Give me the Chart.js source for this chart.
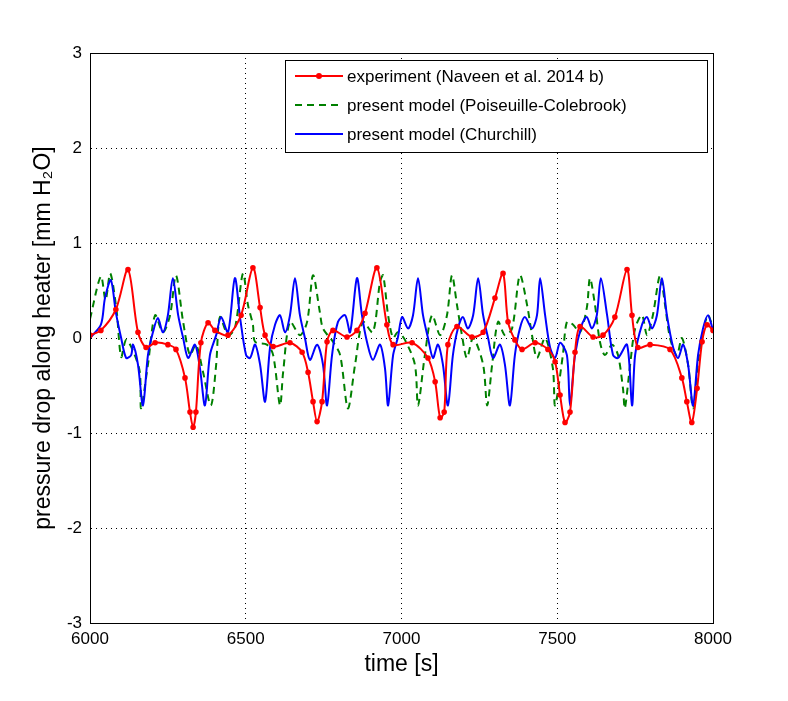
<!DOCTYPE html>
<html><head><meta charset="utf-8">
<script src="https://cdn.jsdelivr.net/npm/chart.js@4"></script>
<style>html,body{margin:0;background:#fff}#wrap{width:788px;height:701px}</style>
</head><body><div id="wrap"><canvas id="c"></canvas></div>
<script>
const xTicks = [6000, 6500, 7000, 7500, 8000];
const yTicks = [-3, -2, -1, 0, 1, 2, 3];
const seriesNames = ['experiment (Naveen et al. 2014 b)', 'present model (Poiseuille-Colebrook)', 'present model (Churchill)'];

const expT = [6000,6035,6083,6122,6154,6180,6209,6250,6276,6305,6321,6331,6340,6356,6379,6401,6443,6485,6523,6546,6562,6588,6642,6681,6700,6716,6729,6745,6761,6780,6825,6857,6883,6921,6953,6973,7034,7085,7108,7124,7137,7149,7178,7226,7262,7300,7326,7342,7364,7387,7429,7470,7493,7509,7525,7541,7557,7573,7615,7647,7685,7724,7740,7759,7798,7862,7900,7916,7932,7949,7965,7981,8000];
const expV = [0.03,0.08,0.3,0.72,0.06,-0.1,-0.05,-0.07,-0.12,-0.42,-0.78,-0.94,-0.78,-0.05,0.16,0.08,0.03,0.24,0.74,0.32,0.03,-0.09,-0.05,-0.15,-0.36,-0.67,-0.88,-0.67,-0.04,0.08,0.01,0.08,0.26,0.74,0.14,-0.07,-0.05,-0.21,-0.46,-0.84,-0.78,-0.07,0.12,0.01,0.06,0.42,0.68,0.17,-0.02,-0.12,-0.05,-0.12,-0.25,-0.6,-0.89,-0.78,-0.15,0.12,0.01,0.03,0.22,0.72,0.24,-0.1,-0.07,-0.12,-0.42,-0.67,-0.89,-0.53,-0.04,0.14,0.08];

const pcT = [6000,6035,6050,6065,6085,6100,6116,6140,6160,6164,6186,6209,6234,6257,6276,6299,6321,6340,6363,6388,6405,6417,6443,6465,6491,6507,6523,6530,6568,6588,6610,6620,6642,6674,6697,6716,6738,6748,6780,6803,6828,6851,6876,6908,6931,6941,6957,6973,6988,7011,7043,7053,7075,7098,7124,7146,7162,7178,7194,7210,7230,7262,7275,7291,7310,7332,7355,7380,7403,7419,7435,7461,7486,7493,7518,7531,7551,7573,7595,7605,7621,7637,7653,7676,7695,7711,7717,7734,7750,7772,7788,7807,7830,7846,7862,7884,7900,7920,7936,7952,7968,7984,8000];
const pcV = [0.2,0.65,0.4,0.68,0.3,-0.2,-0.02,-0.15,-0.36,-0.74,-0.28,0.24,0.06,0.24,0.66,0.17,-0.18,-0.07,-0.36,-0.71,-0.28,0.22,0.03,0.1,0.68,0.35,0.14,-0.04,-0.07,-0.18,-0.71,-0.36,0.17,0.03,0.17,0.66,0.27,0.1,-0.04,-0.18,-0.74,-0.28,0.17,0.06,0.59,0.66,0.24,0,0.06,-0.02,-0.28,-0.71,-0.18,0.24,0.03,0.24,0.66,0.35,0.03,-0.21,0,-0.28,-0.71,-0.28,0.17,0.03,0.1,0.66,0.35,0.03,-0.21,0,-0.32,-0.71,-0.18,0.17,0.14,0.06,0.32,0.63,0.35,-0.04,-0.18,-0.07,-0.18,-0.53,-0.74,-0.28,0.1,0.24,0.03,0.24,0.66,0.35,0,-0.18,0,-0.28,-0.74,-0.25,0.06,0.24,0.1];

const chT = [6000,6035,6048,6067,6083,6100,6116,6132,6138,6154,6170,6186,6202,6218,6234,6250,6266,6283,6299,6315,6337,6353,6369,6385,6405,6421,6443,6465,6482,6501,6514,6530,6546,6562,6578,6594,6610,6626,6642,6658,6674,6690,6706,6729,6748,6761,6777,6796,6819,6835,6857,6873,6889,6908,6931,6947,6957,6973,6988,7002,7021,7037,7053,7069,7085,7101,7117,7133,7149,7165,7181,7197,7213,7230,7246,7262,7278,7294,7316,7332,7348,7364,7380,7396,7419,7435,7445,7461,7477,7493,7509,7531,7541,7557,7579,7595,7611,7627,7640,7660,7679,7695,7724,7740,7750,7772,7788,7804,7820,7836,7852,7872,7888,7904,7920,7936,7952,7968,7984,8000];
const chV = [0,0.14,0.42,0.61,0.27,0,-0.21,-0.18,-0.07,-0.28,-0.71,-0.18,0.06,0.21,0.06,0.24,0.63,0.24,0,-0.21,-0.07,-0.32,-0.71,-0.18,0.03,0.22,0.06,0.63,0.21,-0.18,-0.21,-0.07,-0.28,-0.67,-0.1,0.14,0.24,0.06,0.24,0.63,0.24,0,-0.23,-0.07,-0.28,-0.71,-0.18,0.17,0.24,0.06,0.63,0.24,-0.04,-0.23,-0.07,-0.32,-0.71,-0.18,0,0.22,0.1,0.24,0.63,0.24,0,-0.21,-0.07,-0.28,-0.71,-0.18,0.1,0.22,0.1,0.24,0.63,0.24,0,-0.21,-0.07,-0.28,-0.71,-0.18,0.1,0.22,0.1,0.24,0.63,0.24,-0.1,-0.21,-0.05,-0.18,-0.71,-0.18,0.14,0.22,0.1,0.24,0.63,0.24,-0.18,-0.21,-0.07,-0.71,-0.18,0.14,0.22,0.1,0.24,0.63,0.24,-0.1,-0.21,-0.07,-0.28,-0.71,-0.18,0.1,0.24,0.08];

const pts = (t, v) => t.map((x, i) => ({x, y: v[i]}));
const FONT = 'Arial, "Liberation Sans", sans-serif';

const frame = {
  id: 'frame',
  afterDraw(chart) {
    const {ctx, chartArea: a} = chart;
    ctx.save();
    ctx.strokeStyle = '#000'; ctx.lineWidth = 1;
    ctx.strokeRect(a.left + 0.5, a.top + 0.5, a.right - a.left, a.bottom - a.top);
    // legend box
    const lx = 285, ly = 60, lw = 422, lh = 92;
    ctx.fillStyle = '#fff'; ctx.fillRect(lx, ly, lw, lh);
    ctx.strokeRect(lx + 0.5, ly + 0.5, lw, lh);
    ctx.font = '17px ' + FONT; ctx.textBaseline = 'middle';
    chart.data.datasets.forEach((ds, i) => {
      const y = ly + 16 + i * 29;
      ctx.strokeStyle = ds.borderColor; ctx.lineWidth = 2;
      ctx.setLineDash(ds.borderDash || []);
      ctx.beginPath(); ctx.moveTo(lx + 10, y); ctx.lineTo(lx + 58, y); ctx.stroke();
      ctx.setLineDash([]);
      if (ds.pointRadius) { ctx.fillStyle = ds.borderColor; ctx.beginPath(); ctx.arc(lx + 34, y, 3, 0, 7); ctx.fill(); }
      ctx.fillStyle = '#000'; ctx.fillText(ds.label, lx + 62, y + 1);
    });
    ctx.restore();
  }
};

new Chart(document.getElementById('c'), {
  type: 'line',
  data: {
    datasets: [
      {label: seriesNames[0], data: pts(expT, expV), borderColor: '#ff0000', backgroundColor: '#ff0000', borderWidth: 2, pointRadius: 1.8, pointBackgroundColor: '#ff0000', tension: 0.3, order: 0},
      {label: seriesNames[1], data: pts(pcT, pcV), borderColor: '#008000', borderWidth: 2, borderDash: [7, 5], pointRadius: 0, tension: 0.3, order: 2},
      {label: seriesNames[2], data: pts(chT, chV), borderColor: '#0000ff', borderWidth: 2, pointRadius: 0, tension: 0.3, order: 1}
    ]
  },
  options: {
    responsive: true, maintainAspectRatio: false, animation: false,
    layout: {padding: {top: 53, right: 75, left: 0, bottom: 23}},
    plugins: {legend: {display: false}, tooltip: {enabled: false}},
    scales: {
      x: {
        type: 'linear', min: 6000, max: 8000,
        afterBuildTicks: s => { s.ticks = xTicks.map(v => ({value: v})); },
        afterFit: s => { s.height = 55; },
        grid: {color: '#000', drawTicks: false, lineWidth: 1},
        border: {display: true, color: '#000', dash: [1, 4]},
        ticks: {color: '#000', font: {size: 17, family: FONT}, padding: 6, maxRotation: 0, callback: v => String(v)},
        title: {display: true, text: 'time [s]', color: '#000', font: {size: 23, family: FONT}, padding: 0}
      },
      y: {
        min: -3, max: 3,
        afterBuildTicks: s => { s.ticks = yTicks.map(v => ({value: v})); },
        afterFit: s => { s.width = 90; },
        grid: {color: '#000', drawTicks: false, lineWidth: 1},
        border: {display: true, color: '#000', dash: [1, 4]},
        ticks: {color: '#000', font: {size: 17, family: FONT}, padding: 8, callback: v => String(v)},
        title: {display: true, text: 'pressure drop along heater [mm H\u2082O]', color: '#000', font: {size: 23, family: FONT}, padding: {top: 30, bottom: 0}}
      }
    }
  },
  plugins: [frame]
});
</script></body></html>
